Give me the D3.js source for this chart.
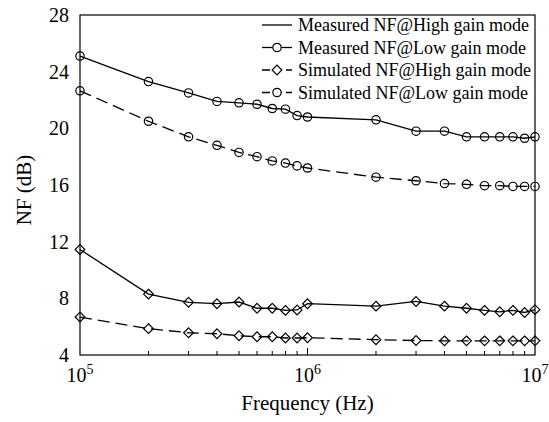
<!DOCTYPE html>
<html>
<head>
<meta charset="utf-8">
<script src="https://cdn.jsdelivr.net/npm/d3@7"></script>
<style>
  body { margin: 0; background: #fff; }
  svg text { font-family: "Liberation Serif", "Times New Roman", serif; fill: #000; }
</style>
</head>
<body>
<div id="chart"></div>
<script>
// frequency points (Hz)
const freqs = [1e5, 2e5, 3e5, 4e5, 5e5, 6e5, 7e5, 8e5, 9e5, 1e6,
               2e6, 3e6, 4e6, 5e6, 6e6, 7e6, 8e6, 9e6, 1e7];

const measuredLow = [25.1, 23.3, 22.5, 21.9, 21.8, 21.7, 21.4, 21.35, 20.9, 20.8,
                     20.6, 19.8, 19.8, 19.4, 19.4, 19.4, 19.4, 19.3, 19.4];
const simulatedLow = [22.65, 20.5, 19.4, 18.8, 18.3, 18.0, 17.7, 17.55, 17.35, 17.2,
                      16.55, 16.3, 16.1, 16.05, 15.95, 15.95, 15.9, 15.9, 15.9];
const measuredHigh = [11.45, 8.3, 7.72, 7.62, 7.74, 7.3, 7.3, 7.15, 7.18, 7.62,
                      7.45, 7.78, 7.45, 7.3, 7.15, 7.05, 7.15, 7.0, 7.2];
const simulatedHigh = [6.68, 5.86, 5.57, 5.5, 5.36, 5.29, 5.29, 5.2, 5.2, 5.22,
                       5.08, 5.02, 5.0, 5.0, 5.0, 5.0, 5.0, 5.0, 5.0];

const yTicks = [4, 8, 12, 16, 20, 24, 28];
const xTickExps = [5, 6, 7];

const legendLabels = [
  "Measured NF@High gain mode",
  "Measured NF@Low gain mode",
  "Simulated NF@High gain mode",
  "Simulated NF@Low gain mode"
];

const width = 549, height = 422;
const margin = { top: 15, right: 14, bottom: 67, left: 80 };
const innerWidth = width - margin.left - margin.right;
const innerHeight = height - margin.top - margin.bottom;

const svg = d3.select("#chart").append("svg")
  .attr("width", width)
  .attr("height", height);

const g = svg.append("g")
  .attr("transform", `translate(${margin.left},${margin.top})`);

const x = d3.scaleLog().domain([1e5, 1e7]).range([0, innerWidth]);
const y = d3.scaleLinear().domain([4, 28]).range([innerHeight, 0]);

// minor x ticks pointing inward
const minor = [];
[1e5, 1e6].forEach(base => { for (let k = 2; k <= 9; k++) minor.push(base * k); });
g.selectAll("line.minor").data(minor).enter().append("line")
  .attr("x1", d => x(d)).attr("x2", d => x(d))
  .attr("y1", innerHeight).attr("y2", innerHeight - 4)
  .attr("stroke", "#000").attr("stroke-width", 1);
g.append("line")
  .attr("x1", x(1e6)).attr("x2", x(1e6))
  .attr("y1", innerHeight).attr("y2", innerHeight - 7)
  .attr("stroke", "#000").attr("stroke-width", 1);

// y tick labels
g.selectAll("text.ylab").data(yTicks).enter().append("text")
  .attr("x", -11).attr("y", d => y(d))
  .attr("dy", "0.35em")
  .attr("text-anchor", "end")
  .attr("font-size", 20)
  .text(d => d);

// x tick labels 10^n
xTickExps.forEach(e => {
  const t = g.append("text")
    .attr("x", x(Math.pow(10, e)))
    .attr("y", innerHeight + 27)
    .attr("text-anchor", "middle")
    .attr("font-size", 20);
  t.append("tspan").text("10");
  t.append("tspan").attr("dy", -8).attr("font-size", 14).text(e);
});

// axis titles
g.append("text")
  .attr("x", innerWidth / 2)
  .attr("y", innerHeight + 55)
  .attr("text-anchor", "middle")
  .attr("font-size", 21)
  .text("Frequency (Hz)");

g.append("text")
  .attr("transform", "rotate(-90)")
  .attr("x", -175)
  .attr("y", -49)
  .attr("text-anchor", "middle")
  .attr("font-size", 21)
  .text("NF (dB)");

// series
const line = d3.line()
  .x((d, i) => x(freqs[i]))
  .y(d => y(d));

const series = [
  { values: measuredLow, dash: null, marker: "circle" },
  { values: simulatedLow, dash: "12,6", marker: "circle" },
  { values: measuredHigh, dash: null, marker: "diamond" },
  { values: simulatedHigh, dash: "12,6", marker: "diamond" }
];

const circleSym = d3.symbol().type(d3.symbolCircle).size(55);
const diamondSym = d3.symbol().type(d3.symbolDiamond2).size(60);

series.forEach(s => {
  g.append("path")
    .datum(s.values)
    .attr("fill", "none")
    .attr("stroke", "#000")
    .attr("stroke-width", 1.3)
    .attr("stroke-dasharray", s.dash)
    .attr("d", line);

  g.selectAll(null).data(s.values).enter().append("path")
    .attr("transform", (d, i) => `translate(${x(freqs[i])},${y(d)})`)
    .attr("d", s.marker === "circle" ? circleSym() : diamondSym())
    .attr("fill", "none")
    .attr("stroke", "#000")
    .attr("stroke-width", 1.2);
});

// frame
g.append("rect")
  .attr("width", innerWidth).attr("height", innerHeight)
  .attr("fill", "none").attr("stroke", "#000").attr("stroke-width", 1.2);

// legend
const legend = svg.append("g").attr("transform", "translate(262,25)");
const legendStyles = [
  { dash: null, marker: null },
  { dash: null, marker: "circle" },
  { dash: "8,4", marker: "diamond" },
  { dash: "8,4", marker: "circle" }
];
legendLabels.forEach((lab, i) => {
  const row = legend.append("g").attr("transform", `translate(0,${i * 22.5})`);
  row.append("line")
    .attr("x1", 0).attr("x2", 30)
    .attr("stroke", "#000").attr("stroke-width", 1.3)
    .attr("stroke-dasharray", legendStyles[i].dash);
  if (legendStyles[i].marker) {
    row.append("path")
      .attr("transform", "translate(15,0)")
      .attr("d", legendStyles[i].marker === "circle" ? circleSym() : diamondSym())
      .attr("fill", "#fff").attr("stroke", "#000").attr("stroke-width", 1.2);
  }
  row.append("text")
    .attr("x", 36).attr("y", 0)
    .attr("dy", "0.35em")
    .attr("font-size", 18)
    .text(lab);
});
</script>
</body>
</html>
